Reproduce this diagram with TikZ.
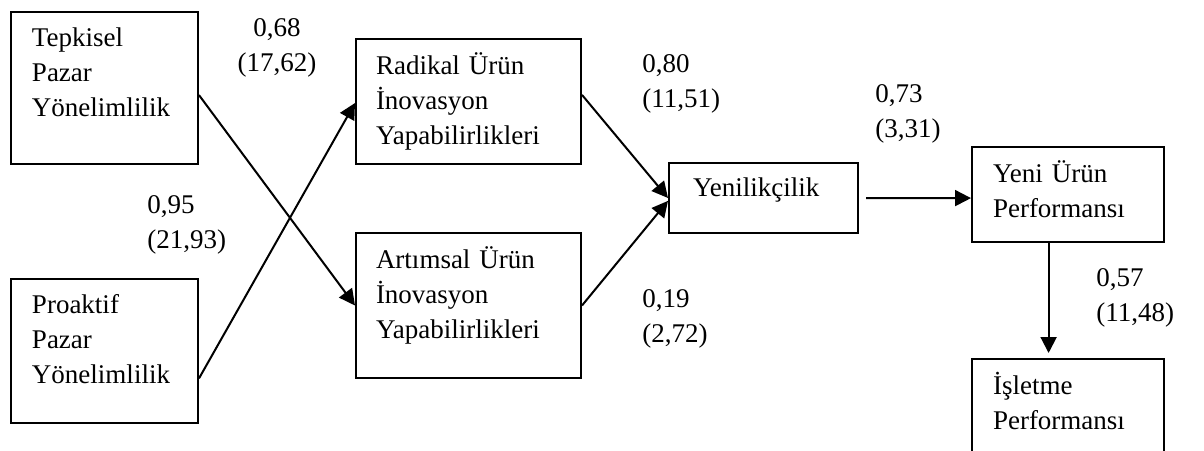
\documentclass[tikz,border=0pt]{standalone}
\usepackage{fontspec}
\setmainfont{Liberation Serif}
\usetikzlibrary{arrows.meta,calc}

\begin{document}
\begin{tikzpicture}[x=0.5pt,y=-0.5pt,
  font=\fontsize{13.5pt}{17.5pt}\selectfont,
  kutu/.style={draw,line width=1pt,anchor=north west,align=left,inner ysep=0pt},
  katsayi/.style={inner sep=0pt,text width=45pt,align=left,anchor=base west},
  yol/.style={line width=1pt,-{Triangle[length=8pt,width=8pt]}}]
	\useasboundingbox (0,0) rectangle (1204,450);
	\node[kutu,inner xsep=10.5pt,text width=72.5pt,text height=17pt,text depth=59pt] (tepk) at (10,11) {Tepkisel\\Pazar\\Yönelimlilik};
	\node[kutu,inner xsep=10.5pt,text width=72.5pt,text height=17pt,text depth=55pt] (proa) at (10,278) {Proaktif\\Pazar\\Yönelimlilik};
	\node[kutu,inner xsep=10pt,text width=92.5pt,text height=17.5pt,text depth=45pt] (radi) at (355,38) {Radikal Ürün\\İnovasyon\\Yapabilirlikleri};
	\node[kutu,inner xsep=10pt,text width=92.5pt,text height=17.5pt,text depth=55pt] (arti) at (355,232) {Artımsal Ürün\\İnovasyon\\Yapabilirlikleri};
	\node[kutu,inner xsep=12pt,text width=70.5pt,text height=16.5pt,text depth=18.5pt] (yeni) at (668,162) {Yenilikçilik};
	\node[kutu,inner xsep=10.5pt,text width=75pt,text height=17.5pt,text depth=30pt] (yup) at (971,146) {Yeni Ürün\\Performansı};
	\node[kutu,inner xsep=10.5pt,text width=75pt,text height=17.5pt,text depth=50pt] (isp) at (971,358) {İşletme\\Performansı};

	\node[katsayi,anchor=base,align=center] (l068) at (277,36) {0,68\\(17,62)};
	\node[katsayi] (l095) at (147,213) {0,95\\(21,93)};
	\node[katsayi] (l080) at (642,72) {0,80\\(11,51)};
	\node[katsayi] (l019) at (642,307) {0,19\\(2,72)};
	\node[katsayi] (l073) at (875,102) {0,73\\(3,31)};
	\node[katsayi] (l057) at (1096,286) {0,57\\(11,48)};

	\draw[yol] ($(tepk.north east)!0.546!(tepk.south east)$) -- (arti.west);
	\draw[yol] ($(proa.north east)!0.6875!(proa.south east)$) -- ($(radi.north west)!0.512!(radi.south west)$);
	\draw[yol] ($(radi.north east)!0.448!(radi.south east)$) -- (yeni.west);
	\draw[yol] (arti.east) -- ($(yeni.north west)!0.54!(yeni.south west)$);
	\draw[yol] ([xshift=3.5pt]yeni.east) -- ($(yup.north west)!0.537!(yup.south west)$);
	\draw[yol] ($(yup.south west)!0.4!(yup.south east)$) -- ($(isp.north west)!0.4!(isp.north east)+(0,-5)$);
\end{tikzpicture}
\end{document}
